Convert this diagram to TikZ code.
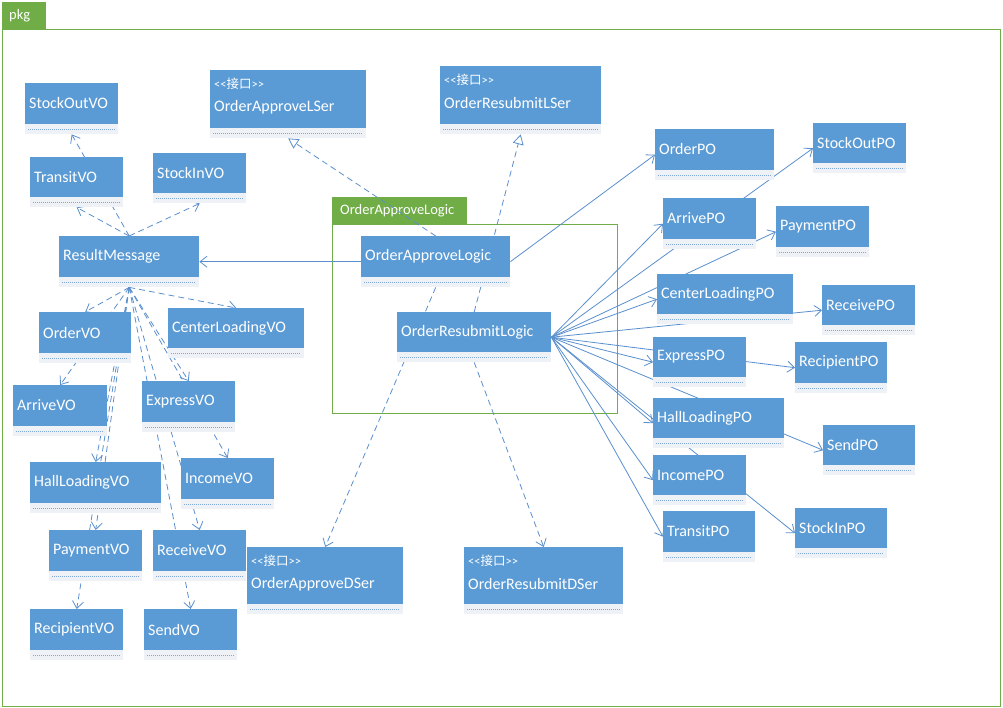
\documentclass[tikz,border=0pt]{standalone}
\usepackage{fontspec}
\setmainfont{Carlito}
\newfontfamily\cjk{Noto Sans CJK SC}
\usetikzlibrary{arrows.meta,calc,backgrounds}
\definecolor{boxblue}{HTML}{5B9BD5}
\definecolor{lineblue}{HTML}{5A8FCE}
\definecolor{pkggreen}{HTML}{70AD47}
\definecolor{stripgray}{HTML}{EEF1F5}
\definecolor{dotblue}{HTML}{7FA7D8}
\tikzset{
 clsnode/.style={rectangle, draw=none, fill=stripgray, inner sep=0pt, anchor=north west,
   path picture={
     \fill[boxblue] (path picture bounding box.north west) rectangle ([yshift=10pt]path picture bounding box.south east);
     \draw[dotblue, line width=0.6pt, dash pattern=on 1pt off 1pt] ([xshift=3pt,yshift=5pt]path picture bounding box.south west) -- ([xshift=-3pt,yshift=5pt]path picture bounding box.south east);
   }},
 lbl/.style={inner sep=0pt, anchor=west, text=white, font=\fontsize{16}{19}\selectfont},
 stereo/.style={inner sep=0pt, anchor=west, text=white, font=\fontsize{12.5}{14}\selectfont},
 tablbl/.style={inner sep=0pt, anchor=west, text=white, font=\fontsize{14.5}{17}\selectfont},
 pkgtab/.style={rectangle, fill=pkggreen, draw=none, inner sep=0pt, anchor=north west},
 pkgline/.style={draw=pkggreen, line width=0.9pt},
 dep/.style={lineblue, line width=0.8pt, dash pattern=on 6pt off 4pt, -{Straight Barb[length=7pt,width=11pt]}},
 assoc/.style={lineblue, line width=0.8pt, -{Straight Barb[length=7pt,width=11pt]}},
 real/.style={lineblue, line width=0.8pt, dash pattern=on 6pt off 4pt, -{Triangle[open,fill=white,length=10pt,width=11pt]}},
}
\newcommand\umlcls[6]{%
  \node[clsnode, minimum width=#4, minimum height=#5+10] (#1) at (#2,#3) {};
  \node[lbl] (#1-t) at ($(#1.north west)+(4,#5/2)$) {#6};}
\newcommand\umlifc[6]{%
  \node[clsnode, minimum width=#4, minimum height=#5+10] (#1) at (#2,#3) {};
  \node[stereo] (#1-st) at ($(#1.north west)+(4,14)$) {<\kern0pt<{\cjk 接口}>\kern0pt>};
  \node[lbl] (#1-t) at ($(#1.north west)+(4,37)$) {#6};}
\begin{document}
\begin{tikzpicture}[x=1pt,y=-1pt]
\useasboundingbox (0,0) rectangle (1003,708);
% VO classes
\umlcls{stockoutvo}{25}{83}{93}{41}{StockOutVO}
\umlcls{transitvo}{30}{157}{93}{40}{TransitVO}
\umlcls{stockinvo}{153}{153}{93}{40}{StockInVO}
\umlcls{resultmessage}{59}{236}{140}{41}{ResultMessage}
\umlcls{ordervo}{39}{312}{92}{41}{OrderVO}
\umlcls{centerloadingvo}{168}{308}{136}{40}{CenterLoadingVO}
\umlcls{arrivevo}{13}{385}{94}{41}{ArriveVO}
\umlcls{expressvo}{142}{381}{93}{41}{ExpressVO}
\umlcls{hallloadingvo}{30}{462}{131}{41}{HallLoadingVO}
\umlcls{incomevo}{181}{458}{93}{41}{IncomeVO}
\umlcls{paymentvo}{49}{530}{93}{41}{PaymentVO}
\umlcls{receivevo}{153}{530}{93}{41}{ReceiveVO}
\umlcls{recipientvo}{30}{609}{93}{41}{RecipientVO}
\umlcls{sendvo}{144}{609}{93}{41}{SendVO}
% interfaces
\umlifc{orderapprovelser}{210}{70}{156}{58}{OrderApproveLSer}
\umlifc{orderresubmitlser}{440}{66}{161}{58}{OrderResubmitLSer}
\umlifc{orderapprovedser}{247}{547}{156}{57}{OrderApproveDSer}
\umlifc{orderresubmitdser}{464}{547}{159}{57}{OrderResubmitDSer}
% logic
\umlcls{orderapprovelogic}{361}{236}{149}{41}{OrderApproveLogic}
\umlcls{orderresubmitlogic}{397}{312}{154}{40}{OrderResubmitLogic}
% PO classes
\umlcls{orderpo}{655}{129}{119}{41}{OrderPO}
\umlcls{stockoutpo}{813}{123}{93}{40}{StockOutPO}
\umlcls{arrivepo}{663}{198}{93}{41}{ArrivePO}
\umlcls{paymentpo}{776}{206}{93}{41}{PaymentPO}
\umlcls{centerloadingpo}{657}{274}{136}{40}{CenterLoadingPO}
\umlcls{receivepo}{822}{285}{93}{40}{ReceivePO}
\umlcls{expresspo}{653}{337}{93}{40}{ExpressPO}
\umlcls{recipientpo}{795}{342}{92}{41}{RecipientPO}
\umlcls{hallloadingpo}{653}{398}{131}{40}{HallLoadingPO}
\umlcls{sendpo}{823}{425}{92}{40}{SendPO}
\umlcls{incomepo}{653}{455}{93}{40}{IncomePO}
\umlcls{transitpo}{663}{511}{92}{41}{TransitPO}
\umlcls{stockinpo}{795}{508}{92}{40}{StockInPO}
\begin{pgfonlayer}{background}
\fill[white] (0,0) rectangle (1003,708);
% packages
\draw[pkgline] (2,29) rectangle (1000,706);
\node[pkgtab, minimum width=44, minimum height=27] (pkgtab) at (2,2) {};
\node[tablbl] (pkgtab-t) at ($(pkgtab.west)+(7,0)$) {pkg};
\draw[pkgline] (332,224) rectangle (617,413);
\node[pkgtab, minimum width=135, minimum height=27] (logictab) at (332,197) {};
\node[tablbl] (logictab-t) at ($(logictab.west)+(8,0)$) {OrderApproveLogic};
% ResultMessage dependencies
\foreach \t in {stockoutvo,transitvo,stockinvo}
  \draw[dep] (resultmessage.north) -- (\t.south);
\foreach \t in {ordervo,arrivevo,centerloadingvo,expressvo,incomevo,receivevo,sendvo,hallloadingvo,paymentvo,recipientvo}
  \draw[dep] (resultmessage.south) -- (\t.north);
% associations
\draw[assoc] (orderapprovelogic.west) -- (resultmessage.east);
\draw[assoc] (orderapprovelogic.east) -- (orderpo.west);
\foreach \t in {arrivepo,stockoutpo,paymentpo,centerloadingpo,receivepo,expresspo,recipientpo,hallloadingpo,sendpo,incomepo,transitpo,stockinpo}
  \draw[assoc] (orderresubmitlogic.east) -- (\t.west);
% realizations
\draw[real] (orderapprovelogic.north) -- (orderapprovelser.south);
\draw[real] (orderresubmitlogic.north) -- (orderresubmitlser.south);
% data service dependencies
\draw[dep] (orderapprovelogic.south) -- (orderapprovedser.north);
\draw[dep] (orderresubmitlogic.south) -- (orderresubmitdser.north);
\end{pgfonlayer}
\end{tikzpicture}
\end{document}
